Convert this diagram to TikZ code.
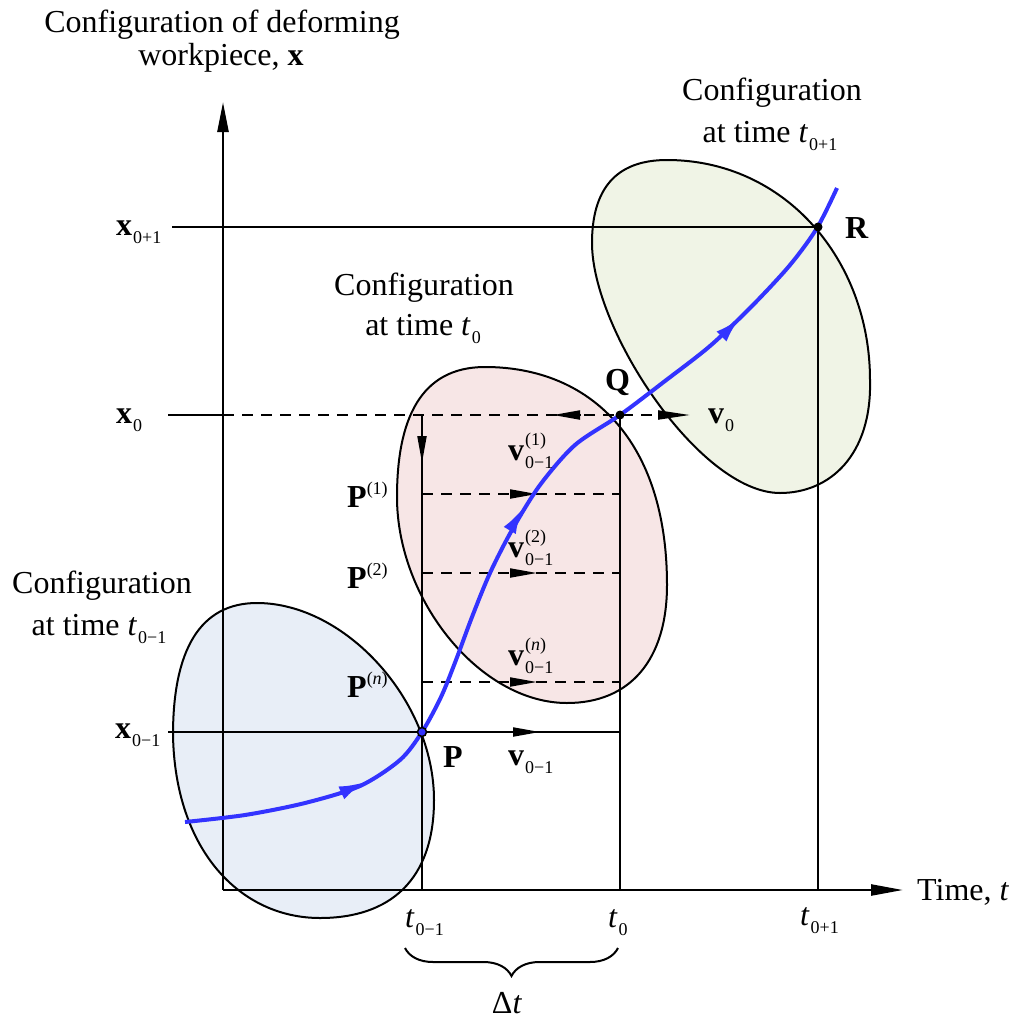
\documentclass[tikz,border=0pt]{standalone}
\usepackage{fontspec}
\setmainfont{Liberation Serif}
\usetikzlibrary{arrows.meta,decorations.pathreplacing}
\definecolor{curveblue}{HTML}{3333FF}
\definecolor{bluefill}{HTML}{E8EEF7}
\definecolor{pinkfill}{HTML}{F7E6E6}
\definecolor{greenfill}{HTML}{F0F4E6}
\newcommand{\lsub}[1]{\kern1pt\raisebox{-8pt}{\fontsize{18}{18}\selectfont #1}}
\newcommand{\lsup}[1]{\raisebox{13pt}{\fontsize{18}{18}\selectfont #1}}
\newcommand{\lsupsub}[2]{\makebox[0pt][l]{\raisebox{15pt}{\fontsize{18}{18}\selectfont\kern1pt #1}}\raisebox{-8pt}{\fontsize{18}{18}\selectfont\kern1pt #2}}
\begin{document}
\begin{tikzpicture}[x=1pt,y=-1pt,
  every node/.style={font=\fontsize{32}{38}\selectfont, inner sep=0pt},
  lbl/.style={anchor=base west},
  ctr/.style={anchor=base},
  axisline/.style={line width=2.4pt},
  gline/.style={line width=2pt},
  dsh/.style={line width=2pt, dash pattern=on 11pt off 8pt},
  blob/.style={line width=2pt, draw=black},
  trajectory/.style={line width=4pt, draw=curveblue},
  head/.style={-{Triangle[length=27pt,width=9pt]}, line width=2pt},
  bhead/.style={-{Latex[length=26pt,width=14pt]}, line width=4pt, draw=curveblue, fill=curveblue},
  dot/.style={fill=black}
]
\useasboundingbox (0,0) rectangle (1018,1018);

% named points
\coordinate (O) at (223,890);
\coordinate (P) at (422,732);
\coordinate (Q) at (620,415);
\coordinate (R) at (818,227);
\coordinate (Ytip) at (223,102);
\coordinate (Xtip) at (903,890);

% blobs
\filldraw[blob, fill=bluefill] (257,603)
  .. controls (345,603) and (434,700) .. (434,800)
  .. controls (434,880) and (390,918) .. (320,918)
  .. controls (240,918) and (175,850) .. (173,735)
  .. controls (173,650) and (200,603) .. (257,603) -- cycle;
\filldraw[blob, fill=pinkfill] (485,367)
  .. controls (590,367) and (667,440) .. (667,585)
  .. controls (667,660) and (630,703) .. (567,703)
  .. controls (480,703) and (397,600) .. (397,497)
  .. controls (397,420) and (420,367) .. (485,367) -- cycle;
\filldraw[blob, fill=greenfill] (667,160)
  .. controls (785,160) and (870,260) .. (870,380)
  .. controls (872,455) and (830,493) .. (780,493)
  .. controls (700,493) and (592,330) .. (592,243)
  .. controls (592,190) and (615,160) .. (667,160) -- cycle;

% axes
\draw[axisline, -{Triangle[length=30pt,width=11pt]}] (O) -- (Ytip);
\draw[axisline, -{Triangle[length=32pt,width=11pt]}] (O) -- (Xtip);

% x_{0+1} level and t_{0+1}
\draw[gline] (172,227) -- (R);
\draw[gline] (R) -- (818,890);

% x_0 level
\draw[gline] (168,415) -- (223,415);
\draw[dsh] (223,415) -- (660,415);
\draw[head] (580,415) -- (553,415);
\draw[-{Triangle[length=32pt,width=9pt]}, line width=2pt] (658,415) -- (690,415);

% verticals
\draw[gline] (422,415) -- (422,890);
\draw[head] (422,436) -- (422,463);
\draw[gline] (Q) -- (620,890);

% dashed levels with arrows
\draw[dsh] (422,494) -- (620,494);
\draw[head] (510,494) -- (537,494);
\draw[dsh] (422,573) -- (620,573);
\draw[head] (510,573) -- (537,573);
\draw[dsh] (422,682) -- (620,682);
\draw[head] (510,682) -- (537,682);

% x_{0-1} level
\draw[gline] (168,732) -- (620,732);
\draw[head] (512,732) -- (540,732);

% trajectory
\draw[trajectory] plot[smooth, tension=0.5] coordinates {
  (185,822) (245,815) (305,803) (360,786) (400,760) (422,732) (441,697)
  (456,660) (472,617) (490,573) (512,530) (540,485) (575,445) (620,415)
  (665,381) (710,346) (752,306) (790,265) (817,228) (837,188)};
\draw[bhead] (341,793) -- (365,782);
\draw[bhead] (510,530) -- (523,508);
\draw[bhead] (722,336) -- (740,318);

% points
\draw[line width=1.5pt, fill=curveblue] (P) circle (4.5);
\fill[dot] (Q) circle (4.5);
\fill[dot] (R) circle (4.5);

% brace
\draw[line width=2pt, decorate, decoration={brace, mirror, amplitude=28pt}] (405,948) -- (618,948);

% labels
\node[ctr] (top1) at (222,32) {Configuration of deforming};
\node[ctr] (top2) at (221,65) {workpiece,~\textbf{x}};
\node[ctr] (cr1) at (772,100) {Configuration};
\node[ctr] (cr2) at (770,142) {at time~\textit{t}\lsub{0+1}};
\node[ctr] (cm1) at (424,295) {Configuration};
\node[ctr] (cm2) at (423,335) {at time~\textit{t}\lsub{0}};
\node[ctr] (cl1) at (102,593) {Configuration};
\node[ctr] (cl2) at (99,635) {at time~\textit{t}\lsub{0−1}};

\node[lbl] (lx1) at (116,235) {\textbf{x}\lsub{0+1}};
\node[lbl] (lx0) at (116,423) {\textbf{x}\lsub{0}};
\node[lbl] (lxm) at (115,738) {\textbf{x}\lsub{0−1}};
\node[lbl] (lp1) at (347,507) {\textbf{P}\lsup{(1)}};
\node[lbl] (lp2) at (347,588) {\textbf{P}\lsup{(2)}};
\node[lbl] (lpn) at (347,697) {\textbf{P}\lsup{(\textit{n})}};
\node[lbl] (lv1) at (508,460) {\textbf{v}\lsupsub{(1)}{0−1}};
\node[lbl] (lv2) at (508,557) {\textbf{v}\lsupsub{(2)}{0−1}};
\node[lbl] (lvn) at (508,665) {\textbf{v}\lsupsub{(\textit{n})}{0−1}};
\node[lbl] (lP) at (443,767) {\textbf{P}};
\node[lbl] (lvm) at (508,765) {\textbf{v}\lsub{0−1}};
\node[lbl] (lQ) at (605,390) {\textbf{Q}};
\node[lbl] (lv0) at (708,423) {\textbf{v}\lsub{0}};
\node[lbl] (lR) at (845,238) {\textbf{R}};
\node[lbl] (lt1) at (405,927) {\textit{t}\lsub{0−1}};
\node[lbl] (lt0) at (608,927) {\textit{t}\lsub{0}};
\node[lbl] (lt2) at (800,925) {\textit{t}\lsub{0+1}};
\node[lbl] (ltime) at (917,900) {Time,~\textit{t}};
\node[ctr] (ldt) at (507,1013) {Δ\textit{t}};
\end{tikzpicture}
\end{document}
